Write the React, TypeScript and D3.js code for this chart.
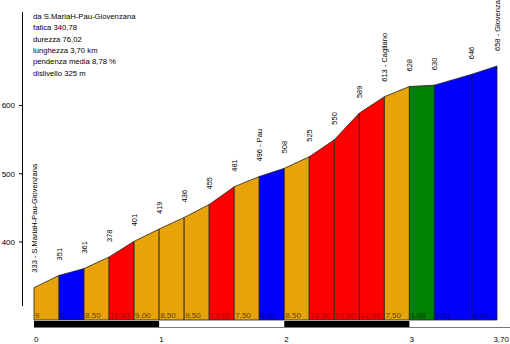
import React from "react";
import * as d3 from "d3";

const distances = [0, 0.2, 0.4, 0.6, 0.8, 1.0, 1.2, 1.4, 1.6, 1.8, 2.0, 2.2, 2.4, 2.6, 2.8, 3.0, 3.2, 3.5, 3.7];
const elevations = [333, 351, 361, 378, 401, 419, 436, 455, 481, 496, 508, 525, 550, 589, 613, 628, 630, 646, 658];
const pointNames = ["S.MariaH-Pau-Giovenzana", "", "", "", "", "", "", "", "", "Pau", "", "", "", "", "Cagliano", "", "", "", "Giovenzana"];
const grades = [9, 5, 8.5, 11.5, 9, 8.5, 9.5, 13, 7.5, 6, 8.5, 12.5, 19.5, 12, 7.5, 1, 5.33, 6];
const gradeLabels = ["9", "5", "8,50", "11,50", "9,00", "8,50", "9,50", "13,00", "7,50", "6,00", "8,50", "12,50", "19,50", "12,00", "7,50", "1,00", "5,33", "6,00"];
const summaryLines = [
  "da S.MariaH-Pau-Giovenzana",
  "fatica 340,78",
  "durezza 76,02",
  "lunghezza 3,70 km",
  "pendenza media 8,78 %",
  "dislivello 325 m",
];
const yTicks = [400, 500, 600];
const xTicks = [0, 1, 2, 3, 3.7];
const xTickLabels = ["0", "1", "2", "3", "3,70"];
const kmBands = [[0, 1], [1, 2], [2, 3], [3, 3.7]];

const FONT = "'Liberation Sans', Arial, sans-serif";

export default function App() {
  const x = d3.scaleLinear().domain([0, 3.7]).range([34, 497]);
  const y = d3.scaleLinear().domain([400, 600]).range([242, 105.6]);
  const base = 320;
  const fillScale = d3
    .scaleThreshold<number, string>()
    .domain([3, 7, 10])
    .range(["#008000", "#0000FF", "#E8A20A", "#FF0000"]);
  const textScale = d3
    .scaleThreshold<number, string>()
    .domain([3, 7, 10])
    .range(["#003000", "#00008A", "#5E4200", "#A80000"]);

  const segs = grades.map((g, i) => {
    const x0 = x(distances[i]);
    const x1 = x(distances[i + 1]);
    const y0 = y(elevations[i]);
    const y1 = y(elevations[i + 1]);
    const path = d3.path();
    path.moveTo(x0, base);
    path.lineTo(x0, y0);
    path.lineTo(x1, y1);
    path.lineTo(x1, base);
    path.closePath();
    return { g, i, x0, x1, d: path.toString() };
  });

  return (
    <svg
      width={510}
      height={344}
      style={{ position: "absolute", left: 0, top: 0, background: "#fff" }}
      fontFamily={FONT}
    >
      {/* y axis */}
      <line x1={22.5} x2={22.5} y1={12} y2={306} stroke="#000" strokeWidth={1} />
      {yTicks.map((t) => (
        <g key={t}>
          <line x1={19} x2={22.5} y1={y(t)} y2={y(t)} stroke="#000" />
          <text x={15} y={y(t)} dy="0.35em" fontSize={8} textAnchor="end" fill="#000">
            {t}
          </text>
        </g>
      ))}

      {/* summary */}
      {summaryLines.map((l, i) => (
        <text key={i} x={33} y={19 + i * 11.3} fontSize={7.7} fill="#000">
          {l}
        </text>
      ))}

      {/* segments */}
      {segs.map((s) => (
        <path key={s.i} d={s.d} fill={fillScale(s.g)} stroke="#222" strokeWidth={0.8} />
      ))}
      {segs.map((s) => (
        <text key={"g" + s.i} x={s.x0 + 1} y={318} fontSize={8} fill={textScale(s.g)}>
          {gradeLabels[s.i]}
        </text>
      ))}

      {/* elevation labels */}
      {elevations.map((e, i) => {
        const px = x(distances[i]);
        const py = y(e) - 15;
        const label = pointNames[i] ? `${e} - ${pointNames[i]}` : `${e}`;
        return (
          <text
            key={"e" + i}
            transform={`translate(${px + 2.5},${py}) rotate(-90)`}
            fontSize={7.5}
            fill="#000"
          >
            {label}
          </text>
        );
      })}

      {/* km bar */}
      {kmBands.map((b, i) =>
        i % 2 === 0 ? (
          <rect key={"b" + i} x={x(b[0])} y={321} width={x(b[1]) - x(b[0])} height={6.5} fill="#000" />
        ) : null
      )}
      <line x1={x(0)} x2={510} y1={327.5} y2={327.5} stroke="#777" strokeWidth={1} />

      {/* x labels */}
      {xTicks.map((t, i) => (
        <text
          key={"x" + i}
          x={i === xTicks.length - 1 ? 509 : x(t)}
          y={342}
          fontSize={8}
          textAnchor={i === xTicks.length - 1 ? "end" : "start"}
          fill="#000"
        >
          {xTickLabels[i]}
        </text>
      ))}
    </svg>
  );
}
